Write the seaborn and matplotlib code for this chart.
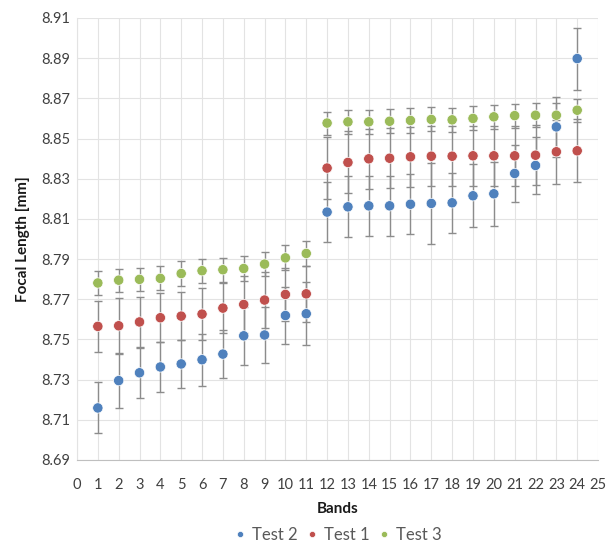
import numpy as np
import pandas as pd
import matplotlib
matplotlib.use("Agg")
import matplotlib.pyplot as plt
import seaborn as sns

# values
bands = list(range(1, 25))

test2 = [8.7159, 8.7295, 8.7334, 8.7363, 8.7378, 8.7399, 8.7427, 8.7518, 8.7522, 8.7619, 8.7628, 8.8134,
         8.8160, 8.8165, 8.8165, 8.8173, 8.8177, 8.8180, 8.8215, 8.8225, 8.8326, 8.8366, 8.8558, 8.8898]
test2_err = [0.0127, 0.0137, 0.0125, 0.0125, 0.0120, 0.0130, 0.0120, 0.0144, 0.0140, 0.0140, 0.0158, 0.0150,
             0.0152, 0.0148, 0.0150, 0.0150, 0.0200, 0.0150, 0.0156, 0.0158, 0.0140, 0.0140, 0.0150, 0.0154]

test1 = [8.7565, 8.7568, 8.7587, 8.7608, 8.7616, 8.7626, 8.7656, 8.7674, 8.7696, 8.7724, 8.7727, 8.8353,
         8.8381, 8.8399, 8.8402, 8.8409, 8.8412, 8.8412, 8.8414, 8.8414, 8.8414, 8.8417, 8.8434, 8.8439]
test1_err = [0.0127, 0.0140, 0.0123, 0.0122, 0.0120, 0.0130, 0.0125, 0.0140, 0.0140, 0.0130, 0.0140, 0.0155,
             0.0154, 0.0148, 0.0150, 0.0150, 0.0150, 0.0150, 0.0150, 0.0150, 0.0150, 0.0150, 0.0160, 0.0156]

test3 = [8.7781, 8.7795, 8.7799, 8.7804, 8.7828, 8.7842, 8.7847, 8.7853, 8.7875, 8.7906, 8.7928, 8.8577,
         8.8583, 8.8583, 8.8586, 8.8590, 8.8595, 8.8593, 8.8600, 8.8608, 8.8614, 8.8616, 8.8616, 8.8641]
test3_err = [0.0060, 0.0058, 0.0058, 0.0060, 0.0062, 0.0060, 0.0060, 0.0062, 0.0058, 0.0062, 0.0060, 0.0057,
             0.0060, 0.0060, 0.0060, 0.0060, 0.0060, 0.0060, 0.0060, 0.0060, 0.0060, 0.0060, 0.0060, 0.0058]

series_names = ["Test 2", "Test 1", "Test 3"]
colors = ["#4F81BD", "#C0504D", "#9BBB59"]
yticks = [8.69, 8.71, 8.73, 8.75, 8.77, 8.79, 8.81, 8.83, 8.85, 8.87, 8.89, 8.91]

data = pd.DataFrame({
    "band": bands * 3,
    "fl": test2 + test1 + test3,
    "err": test2_err + test1_err + test3_err,
    "test": [n for n in series_names for _ in bands],
})

sns.set_style("white")
plt.rcParams["font.family"] = ["Lato", "DejaVu Sans"]

fig = plt.figure(figsize=(6.13, 5.45), dpi=100)
ax = fig.add_axes([0.1256, 0.156, 0.85, 0.811])

# error bars first so the markers sit on top
for name in series_names:
    d = data[data["test"] == name]
    ax.errorbar(d["band"], d["fl"], yerr=d["err"], fmt="none", ecolor="#8C8C8C",
                elinewidth=1.0, capsize=3, capthick=1.0, zorder=2)

sns.scatterplot(data=data, x="band", y="fl", hue="test", hue_order=series_names,
                palette=colors, s=55, edgecolor="white", linewidth=0.5, ax=ax, zorder=3)

ax.set_xlim(0, 25)
ax.set_ylim(8.69, 8.91)
ax.set_xticks(range(0, 26))
ax.set_yticks(yticks)
ax.set_yticklabels([f"{v:.2f}" for v in yticks])
ax.grid(True, color="#E3E3E3", linewidth=0.8)
ax.set_axisbelow(True)
for side in ["top", "right"]:
    ax.spines[side].set_visible(False)
ax.spines["left"].set_color("#E3E3E3")
ax.spines["bottom"].set_color("#BFBFBF")
ax.tick_params(axis="both", length=0, labelsize=10.5, colors="#404040")
ax.tick_params(axis="y", pad=5)
ax.tick_params(axis="x", pad=13)

ax.set_xlabel("Bands", fontsize=11, fontweight="bold", color="#1a1a1a", labelpad=7)
ax.set_ylabel("Focal Length [mm]", fontsize=11, fontweight="bold", color="#1a1a1a", labelpad=8)

ax.legend(loc="upper center", bbox_to_anchor=(0.5, -0.128), ncol=3, frameon=False,
          fontsize=12, handlelength=0.8, handletextpad=0.3, columnspacing=0.5,
          markerscale=0.6, labelcolor="#595959", borderaxespad=0.2)

fig.savefig("out.png", dpi=100)
